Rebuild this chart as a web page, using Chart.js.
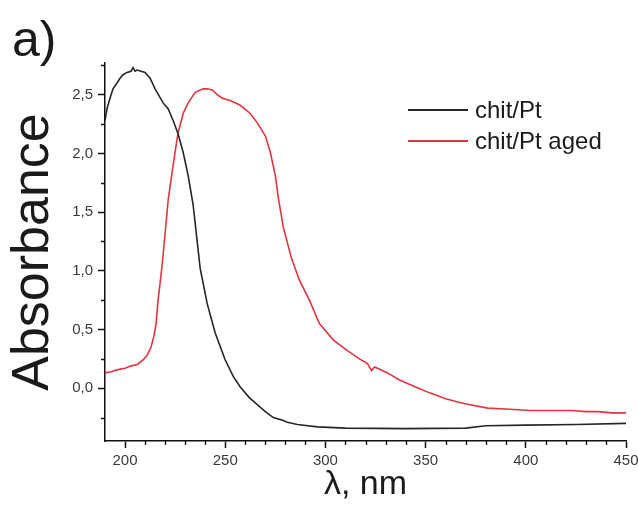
<!DOCTYPE html>
<html>
<head>
<meta charset="utf-8">
<title>UV-Vis absorbance: chit/Pt</title>
<script src="https://cdn.jsdelivr.net/npm/chart.js@4"></script>
<style>
  html, body { margin: 0; padding: 0; background: #ffffff; }
  canvas { display: block; }
</style>
</head>
<body>
<canvas id="spectrum" width="638" height="506"></canvas>
<script>
// Series: wavelength (nm) and absorbance for each sample
const seriesLabels = ['chit/Pt', 'chit/Pt aged'];

const wavelengthFresh = [190, 191, 192.5, 194, 196, 197.5, 199, 201, 203, 204, 205, 206, 208, 210, 212.5, 215, 217, 219, 221.5, 224, 226.4, 229, 231.5, 234, 236, 237.5, 241, 245, 250, 254, 257.5, 262, 266, 270, 274, 276, 278, 281, 286, 296, 310, 340, 370, 380, 400, 425, 450];
const absorbanceFresh = [2.28, 2.38, 2.47, 2.55, 2.60, 2.64, 2.67, 2.69, 2.70, 2.73, 2.70, 2.71, 2.70, 2.69, 2.64, 2.55, 2.49, 2.43, 2.38, 2.28, 2.17, 2.01, 1.81, 1.56, 1.25, 1.02, 0.72, 0.47, 0.24, 0.10, 0.01, -0.08, -0.14, -0.20, -0.25, -0.26, -0.27, -0.29, -0.31, -0.33, -0.34, -0.345, -0.34, -0.32, -0.315, -0.31, -0.30];

const wavelengthAged = [190, 193, 197, 200, 203, 206, 209, 211, 213, 214.5, 215.5, 216.5, 218.4, 220, 221.5, 224, 226.4, 229, 231.5, 235, 239, 241, 243.5, 246, 248.5, 252.5, 257.5, 262.5, 266, 270, 272.5, 275, 276.5, 279, 283, 287, 292, 297, 304, 311, 317, 321, 323, 324.5, 326, 331, 337, 345, 352, 360, 369, 381, 392, 402, 413, 423, 430, 436, 443, 450];
const absorbanceAged = [0.13, 0.14, 0.16, 0.17, 0.19, 0.20, 0.24, 0.28, 0.35, 0.45, 0.55, 0.75, 1.03, 1.32, 1.60, 1.90, 2.17, 2.34, 2.43, 2.52, 2.55, 2.55, 2.54, 2.50, 2.47, 2.45, 2.41, 2.34, 2.26, 2.15, 2.01, 1.81, 1.62, 1.37, 1.11, 0.92, 0.75, 0.55, 0.41, 0.32, 0.25, 0.21, 0.15, 0.18, 0.17, 0.13, 0.07, 0.01, -0.04, -0.09, -0.13, -0.17, -0.18, -0.19, -0.19, -0.19, -0.20, -0.20, -0.21, -0.21];

// Axis tick values and their labels
const xTickValues = [200, 250, 300, 350, 400, 450];
const yTickValues = [0, 0.5, 1.0, 1.5, 2.0, 2.5];
const yTickLabels = ['0,0', '0,5', '1,0', '1,5', '2,0', '2,5'];

const FONT = '"Liberation Sans", Arial, Helvetica, sans-serif';

function toPoints(xs, ys) {
  return xs.map((x, i) => ({ x: x, y: ys[i] }));
}

// Short minor tick marks between the labelled ones
const minorTicks = {
  id: 'minorTicks',
  afterDraw(chart) {
    const ctx = chart.ctx;
    const xs = chart.scales.x, ys = chart.scales.y;
    ctx.save();
    ctx.strokeStyle = '#111';
    ctx.lineWidth = 1.3;
    ctx.beginPath();
    for (let v = 210; v <= 450; v += 10) {
      if (v % 50 === 0) continue;
      const px = Math.round(xs.getPixelForValue(v)) + 0.5;
      ctx.moveTo(px, xs.top);
      ctx.lineTo(px, xs.top + 4);
    }
    for (let k = -1; k <= 11; k += 2) {
      const v = k * 0.25;
      const py = Math.round(ys.getPixelForValue(v)) + 0.5;
      if (py < ys.top - 1) continue;
      ctx.moveTo(ys.right, py);
      ctx.lineTo(ys.right - 4, py);
    }
    ctx.stroke();
    ctx.restore();
  }
};

// Panel letter and the in-plot legend
const annotations = {
  id: 'annotations',
  afterDraw(chart) {
    const ctx = chart.ctx;
    ctx.save();
    ctx.fillStyle = '#1a1a1a';
    ctx.font = '50px ' + FONT;
    ctx.textBaseline = 'alphabetic';
    ctx.textAlign = 'left';
    ctx.fillText('a)', 12, 56);

    const x0 = 408, x1 = 468, rowY = [110, 141];
    ctx.font = '24px ' + FONT;
    ctx.textBaseline = 'middle';
    chart.data.datasets.forEach((ds, i) => {
      ctx.strokeStyle = ds.borderColor;
      ctx.lineWidth = 2;
      ctx.beginPath();
      ctx.moveTo(x0, rowY[i]);
      ctx.lineTo(x1, rowY[i]);
      ctx.stroke();
      ctx.fillStyle = '#1a1a1a';
      ctx.fillText(ds.label, x1 + 7, rowY[i] + 1);
    });
    ctx.restore();
  }
};

new Chart(document.getElementById('spectrum'), {
  type: 'line',
  data: {
    datasets: [
      {
        label: seriesLabels[0],
        data: toPoints(wavelengthFresh, absorbanceFresh),
        borderColor: '#262626',
        borderWidth: 1.6,
        pointRadius: 0,
        tension: 0,
        fill: false
      },
      {
        label: seriesLabels[1],
        data: toPoints(wavelengthAged, absorbanceAged),
        borderColor: '#e2343f',
        borderWidth: 1.6,
        pointRadius: 0,
        tension: 0,
        fill: false
      }
    ]
  },
  options: {
    responsive: false,
    devicePixelRatio: 1,
    animation: false,
    layout: { padding: { top: 63, right: 0, left: 0, bottom: 0 } },
    plugins: {
      legend: { display: false },
      tooltip: { enabled: false }
    },
    scales: {
      x: {
        type: 'linear',
        min: 190,
        max: 450,
        afterBuildTicks: (scale) => { scale.ticks = xTickValues.map(v => ({ value: v })); },
        afterFit: (scale) => {
          scale.height = 65;
          scale.paddingLeft = 0;
          scale.paddingRight = 12;
        },
        border: { display: true, color: '#111', width: 1.5 },
        grid: { drawOnChartArea: false, drawTicks: true, tickLength: 7, tickColor: '#111', tickWidth: 1.5 },
        ticks: {
          padding: 4,
          color: '#3a3a3a',
          font: { family: FONT, size: 15 },
          maxRotation: 0,
          autoSkip: false
        },
        title: {
          display: true,
          text: 'λ, nm',
          color: '#1a1a1a',
          font: { family: FONT, size: 34, lineHeight: 1 },
          padding: { top: 0, bottom: 4 }
        }
      },
      y: {
        type: 'linear',
        min: -0.45,
        max: 2.77,
        afterBuildTicks: (scale) => { scale.ticks = yTickValues.map(v => ({ value: v })); },
        afterFit: (scale) => { scale.width = 105; },
        border: { display: true, color: '#111', width: 1.5 },
        grid: { drawOnChartArea: false, drawTicks: true, tickLength: 7, tickColor: '#111', tickWidth: 1.5 },
        ticks: {
          padding: 5,
          color: '#3a3a3a',
          font: { family: FONT, size: 15 },
          autoSkip: false,
          callback: (value) => {
            const i = yTickValues.findIndex(v => Math.abs(v - value) < 1e-9);
            return i >= 0 ? yTickLabels[i] : '';
          }
        },
        title: {
          display: true,
          text: 'Absorbance',
          color: '#1a1a1a',
          font: { family: FONT, size: 52, lineHeight: 1 },
          padding: { top: 8, bottom: 0 }
        }
      }
    }
  },
  plugins: [minorTicks, annotations]
});
</script>
</body>
</html>
